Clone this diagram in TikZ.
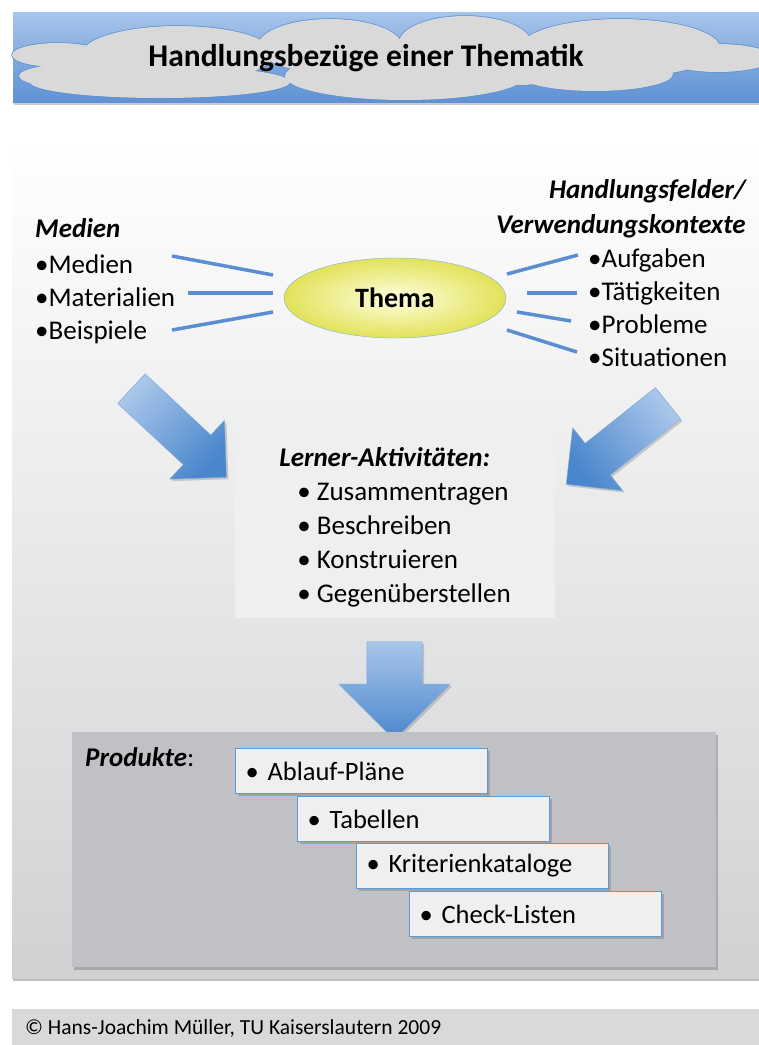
\documentclass[tikz,border=0pt]{standalone}
\usepackage{fontspec}
\setmainfont{Carlito}
\usetikzlibrary{shapes.geometric,shapes.arrows,shadows}

\definecolor{spokeblue}{HTML}{5B8ED1}
\definecolor{arrowlight}{HTML}{A9C6EA}
\definecolor{arrowdark}{HTML}{4A86CC}
\definecolor{titlelight}{HTML}{A7C5EA}
\definecolor{titledark}{HTML}{5F91D3}
\definecolor{cloudgray}{HTML}{D9D9D9}
\definecolor{panelgray}{HTML}{D0D1D3}
\definecolor{prodgray}{HTML}{BFC1C4}
\definecolor{boxwhite}{HTML}{EFEFEF}
\definecolor{boxblue}{HTML}{5B9BD5}
\definecolor{themayellow}{HTML}{E2E25A}
\definecolor{themalight}{HTML}{FFFFE0}

\begin{document}
\begin{tikzpicture}[x=1pt,y=-1pt,
                listtext/.style={inner sep=0pt, align=left, font=\fontsize{27}{33}\selectfont},
                headtext/.style={inner sep=0pt, font=\bfseries\itshape\fontsize{27}{35}\selectfont},
                spoke/.style={line width=3.5pt, spokeblue},
                blockarrow/.style 2 args={single arrow, single arrow head extend=#1, inner sep=0pt,
                    shading=axis, top color=arrowlight, bottom color=arrowdark, shading angle=#2,
                    draw=arrowdark!70, thin,
                    drop shadow={opacity=0.35, shadow xshift=2pt, shadow yshift=-2pt}},
                prodbox/.style={anchor=north west, fill=boxwhite, draw=boxblue, line width=1pt,
                    inner xsep=10pt, text width=232pt, minimum height=45pt, align=left,
                    font=\fontsize{26.5}{30}\selectfont,
                    drop shadow={opacity=0.45, shadow xshift=2pt, shadow yshift=-2pt}}]
                \useasboundingbox (0,0) rectangle (759,1045);
                
                % Title banner
                \path[top color=titlelight, bottom color=titledark,
                    drop shadow={opacity=0.4, shadow xshift=1pt, shadow yshift=-3pt}] (13,12) rectangle (775,102);
                
                % Cloud: outline first, then the fill on top
                \foreach \cx/\cy/\rx/\ry in {58/55/46/12, 85/76/66/13, 178/54/96/28, 330/46/72/27,
                        465/43/66/27, 620/48/100/29, 718/58/55/14, 160/82/130/16, 405/76/120/24, 595/74/78/17,
                        520/65/45/20}
                    \draw[spokeblue, line width=1.4pt] (\cx,\cy) ellipse [x radius=\rx, y radius=\ry];
                \foreach \cx/\cy/\rx/\ry in {58/55/46/12, 85/76/66/13, 178/54/96/28, 330/46/72/27,
                        465/43/66/27, 620/48/100/29, 718/58/55/14, 160/82/130/16, 405/76/120/24, 595/74/78/17,
                        520/65/45/20}
                    \fill[cloudgray] (\cx,\cy) ellipse [x radius=\rx, y radius=\ry];
                \node[font=\bfseries\fontsize{31.5}{35}\selectfont] (title) at (366,58) {Handlungsbezüge einer Thematik};
                
                % Main panel
                \path[top color=white, bottom color=panelgray,
                    drop shadow={opacity=0.5, shadow xshift=1pt, shadow yshift=-3pt}] (12,136) rectangle (775,978);
                
                % Thema
                \node[ellipse, minimum width=222pt, minimum height=80pt, inner color=themalight,
                    outer color=themayellow, draw=boxblue!80, thin,
                    font=\bfseries\fontsize{28}{31}\selectfont] (thema) at (395,298) {Thema};
                
                % Left list
                \node[headtext, anchor=base west] (medienhead) at (35,237) {Medien};
                \node[listtext, anchor=base west] (medienlist) at (35,339) {•Medien\\•Materialien\\•Beispiele};
                
                % Right list
                \node[headtext, align=right, anchor=base east] (feldhead) at (746,233) {Handlungsfelder/\\Verwendungskontexte};
                \node[listtext, anchor=base west] (feldlist) at (588,366) {•Aufgaben\\•Tätigkeiten\\•Probleme\\•Situationen};
                
                % Spokes
                \coordinate (l1a) at (172,256);  \coordinate (l1b) at (273,275);
                \coordinate (l2a) at (188,293);  \coordinate (l2b) at (273,293);
                \coordinate (l3a) at (172,330);  \coordinate (l3b) at (273,312);
                \coordinate (r1a) at (507,274);  \coordinate (r1b) at (578,255);
                \coordinate (r2a) at (527,293);  \coordinate (r2b) at (577,293);
                \coordinate (r3a) at (517,312);  \coordinate (r3b) at (571,321);
                \coordinate (r4a) at (507,330);  \coordinate (r4b) at (577,352);
                \draw[spoke] (l1a) -- (l1b);
                \draw[spoke] (l2a) -- (l2b);
                \draw[spoke] (l3a) -- (l3b);
                \draw[spoke] (r1a) -- (r1b);
                \draw[spoke] (r2a) -- (r2b);
                \draw[spoke] (r3a) -- (r3b);
                \draw[spoke] (r4a) -- (r4b);
                
                % Big arrows
                \node[blockarrow={20pt}{47}, minimum height=130pt, rotate=-43] (arrowleft) at (171.5,426) {\rule{0pt}{40pt}};
                \node[blockarrow={20pt}{-51.5}, minimum height=130pt, rotate=218.5] (arrowright) at (625,437.5) {\rule{0pt}{40pt}};
                \node[blockarrow={28pt}{0}, minimum height=98pt, rotate=-90] (arrowdown) at (394.5,677) {\rule{0pt}{55pt}};
                
                % Learner activities
                \node[fill=boxwhite, minimum width=320pt, minimum height=181pt, align=left,
                    font=\fontsize{27}{34}\selectfont] (lerner) at (395,527.5)
                    {\textbf{\textit{Lerner-Aktivitäten:}}\\
                     \hspace*{18pt}• Zusammentragen\\
                     \hspace*{18pt}• Beschreiben\\
                     \hspace*{18pt}• Konstruieren\\
                     \hspace*{18pt}• Gegenüberstellen};
                
                % Products
                \node[anchor=north west, fill=prodgray, minimum width=644pt, minimum height=235pt,
                    drop shadow={opacity=0.5, shadow xshift=2pt, shadow yshift=-3pt}] (produkte) at (72,732) {};
                \node[anchor=base west, inner sep=0pt, font=\fontsize{27}{30}\selectfont] (produktehead) at (85,766) {\textbf{\textit{Produkte}}:};
                \node[prodbox] (prod1) at (235,748) {• Ablauf-Pläne};
                \node[prodbox] (prod2) at (297,796) {• Tabellen};
                \node[prodbox] (prod3) at (356,843) {• Kriterienkataloge};
                \node[prodbox] (prod4) at (409,891) {• Check-Listen};
                
                % Footer
                \fill[cloudgray] (12,1009) rectangle (775,1050);
                \node[anchor=west, inner sep=0pt, font=\fontsize{21.5}{24}\selectfont] (footer) at (25,1028)
                    {© Hans-Joachim Müller, TU Kaiserslautern 2009};
            \end{tikzpicture}
\end{document}
